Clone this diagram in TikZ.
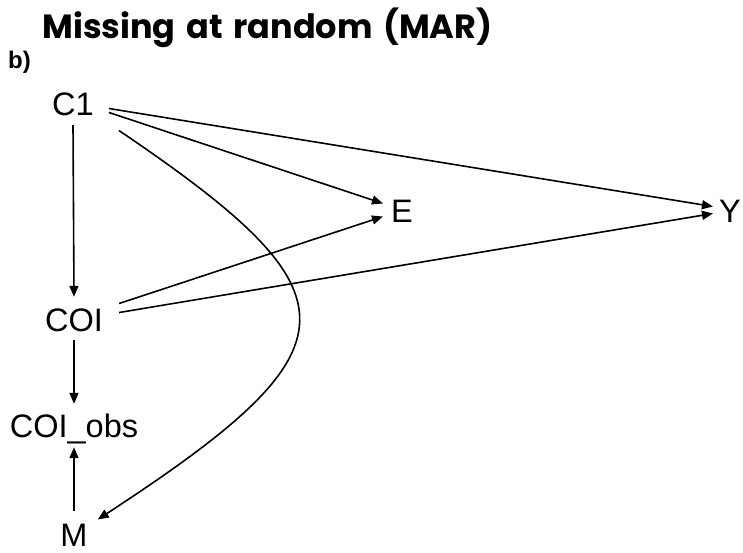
\documentclass[tikz,border=0pt]{standalone}
\usepackage{fontspec}
\setmainfont{Liberation Sans}
\newfontfamily\headfont{Poppins}[WordSpace=1.5]
\usetikzlibrary{arrows.meta,calc}

\begin{document}
\begin{tikzpicture}[x=1pt,y=-1pt,
  var/.style={font=\fontsize{32.5}{32.5}\selectfont, inner sep=0pt, text height=23pt, text depth=0pt, anchor=base},
  arr/.style={line width=1.6pt, -{Triangle[length=11pt,width=9pt]}}
]
\useasboundingbox (0,0) rectangle (743,552);
\fill[white] (0,0) rectangle (743,552);

% heading and panel label
\node[font=\headfont\bfseries\fontsize{33.5}{33.5}\selectfont, anchor=base, inner sep=0pt] (title) at (267.5,38) {Missing at random (MAR)};
\node[font=\bfseries\fontsize{24}{24}\selectfont, anchor=base west, inner sep=0pt] (panel) at (8,68) {b)};

% variables
\node[var] (C1) at (73,115) {C1};
\node[var] (E) at (402,222) {E};
\node[var] (Y) at (730,222) {Y};
\node[var] (COI) at (74,331) {COI};
\node[var] (COIobs) at (74,437) {COI\_obs};
\node[var] (M) at (74,546) {M};

% vertical chain
\draw[arr] ($(C1.south)+(0,10)$) -- ($(COI.north)+(0,-11)$);
\draw[arr] ($(COI.south)+(0,9)$) -- ($(COIobs.north)+(0,-10)$);
\draw[arr] ($(M.north)+(0,-12)$) -- ($(COIobs.south)+(0,10)$);

% effects on E and Y
\draw[arr] ($(C1.east)+(15,5)$) -- ($(Y.west)+(-6,-4)$);
\draw[arr] ($(C1.east)+(15,9)$) -- ($(E.west)+(-8,-7)$);
\draw[arr] ($(COI.east)+(16,-16)$) -- ($(E.west)+(-8,6)$);
\draw[arr] ($(COI.east)+(16,-7)$) -- ($(Y.west)+(-6,3)$);

% C1 drives missingness
\draw[arr] ($(C1.east)+(25,27)$) .. controls (362,295) and (362,347) .. ($(M.east)+(10,-15)$);
\end{tikzpicture}
\end{document}
